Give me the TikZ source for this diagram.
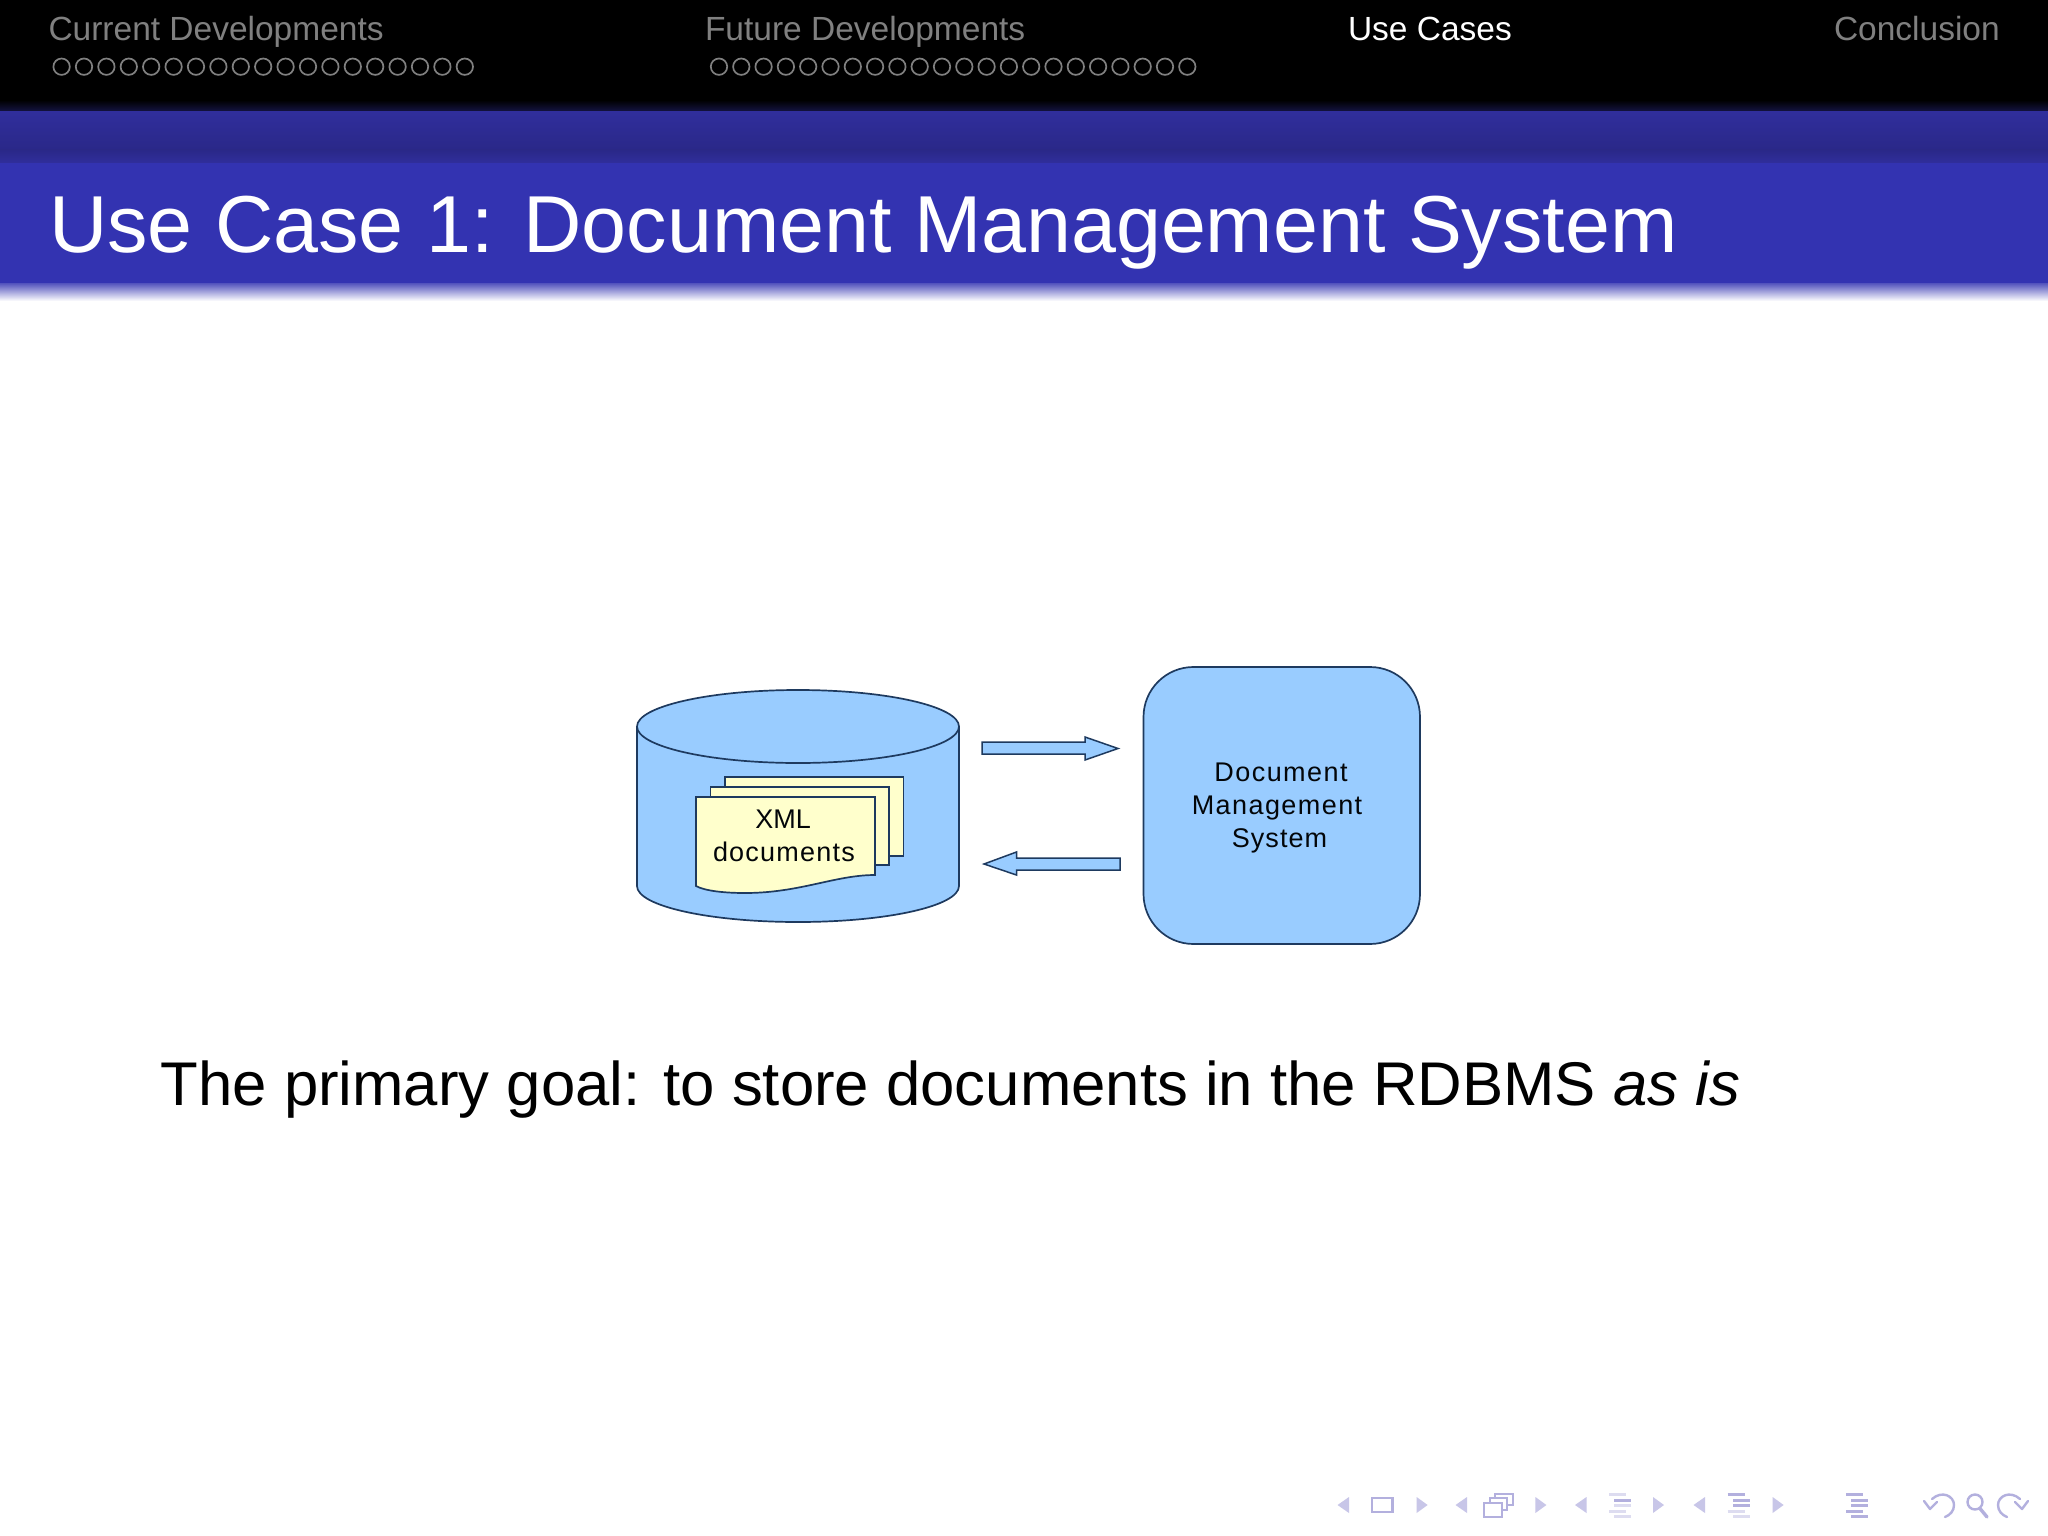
\documentclass[tikz,border=0pt]{standalone}
\usepackage{fontspec}
\setmainfont{Liberation Sans}
\definecolor{bandtop}{HTML}{302E9C}
\definecolor{bandlow}{HTML}{2A2888}
\definecolor{titleblue}{HTML}{3333B1}
\definecolor{dimtext}{HTML}{808080}
\definecolor{shapeblue}{HTML}{99CCFF}
\definecolor{paper}{HTML}{FFFFCC}
\definecolor{edge}{HTML}{1E3A5F}
\definecolor{navfill}{HTML}{C8C6E8}
\definecolor{navstroke}{HTML}{B3B0DE}
\definecolor{navfaint}{HTML}{DDDCF0}
\tikzset{
  x=1pt,y=-1pt,
  labeltext/.style={anchor=base west,inner sep=0pt,outer sep=0pt},
  navhead/.style={labeltext,font=\fontsize{33.5}{40}\selectfont,text=dimtext},
  navdot/.style={draw=dimtext,line width=1.7pt},
  solidshape/.style={draw=edge,line width=1.7pt,fill=shapeblue},
  paperstyle/.style={draw=edge,line width=1.7pt,fill=paper},
  diagtext/.style={anchor=base,inner sep=0pt,outer sep=0pt,text=black!90!edge,font=\fontsize{27}{32}\selectfont},
  navtri/.style={fill=navfill,draw=none},
  navbox/.style={draw=navstroke,line width=2pt,fill=white},
  navbar/.style={line width=3pt,draw=navstroke},
  navbarfaint/.style={line width=3pt,draw=navfaint},
  navcurl/.style={draw=navstroke,line width=2.4pt,line cap=round,line join=round},
}
\begin{document}
\begin{tikzpicture}
\path[use as bounding box,fill=white] (0,0) rectangle (2048,1536);
% header bands
\fill[black] (0,0) rectangle (2048,100);
\shade[top color=black,bottom color=bandtop!45!black,shading angle=0] (0,100) rectangle (2048,112);
\shade[top color=bandtop,bottom color=bandlow] (0,112) rectangle (2048,150);
\shade[top color=bandlow,bottom color=bandtop] (0,150) rectangle (2048,163);
\fill[titleblue] (0,163) rectangle (2048,283);
\shade[top color=titleblue!85!white,bottom color=white] (0,283) rectangle (2048,301);
% header navigation
\node[navhead] (navcurrent) at (48.5,41) {Current Developments};
\node[navhead] (navfuture) at (705,41) {Future Developments};
\node[navhead,text=white] (navuse) at (1348,41) {Use Cases};
\node[navhead] (navconc) at (1834,41) {Conclusion};
\foreach \i in {0,...,18} \draw[navdot] ({61.6+22.4*\i},66.7) circle (8.2);
\foreach \i in {0,...,21} \draw[navdot] ({719+22.3*\i},66.7) circle (8.2);
% title
\node[labeltext,text=white,font=\fontsize{80.8}{96}\selectfont] (title) at (49,252) {Use Case 1: Document Management System};
% cylinder
\path[solidshape] (637,726.5) -- (637,886) .. controls (637,906) and (709,922) .. (798,922)
  .. controls (887,922) and (959,906) .. (959,886) -- (959,726.5)
  .. controls (959,706.5) and (887,690) .. (798,690)
  .. controls (709,690) and (637,706.5) .. (637,726.5) -- cycle;
\draw[edge,line width=1.7pt] (637,726.5) .. controls (637,746.5) and (709,763) .. (798,763)
  .. controls (887,763) and (959,746.5) .. (959,726.5);
% paper stack
\path[paperstyle] (725,777) rectangle (903.5,856);
\path[paperstyle] (710.5,787) rectangle (889,865);
\path[paperstyle] (696,797) -- (875,797) -- (875,875)
  .. controls (835,875) and (800,893) .. (745,893)
  .. controls (725,893) and (705,891) .. (696,886) -- cycle;
\node[diagtext] (xml) at (783,828) {XML};
\node[diagtext] (docs) at (784,861) {\addfontfeature{LetterSpace=4.6}documents};
% arrows
\path[solidshape,line width=1.5pt] (982,742) -- (1085,742) -- (1085,737) -- (1118,748.5) -- (1085,760) -- (1085,754) -- (982,754) -- cycle;
\path[solidshape,line width=1.5pt] (1120,858) -- (1016.5,858) -- (1016.5,852) -- (984,864) -- (1016.5,875) -- (1016.5,870) -- (1120,870) -- cycle;
% system box
\path[solidshape,rounded corners=50pt] (1143.5,667) rectangle (1420,944);
\node[diagtext] (dms1) at (1281,781) {\addfontfeature{LetterSpace=5.3}Document};
\node[diagtext] (dms2) at (1277,814) {\addfontfeature{LetterSpace=5.3}Management};
\node[diagtext] (dms3) at (1279.5,847) {\addfontfeature{LetterSpace=4}System};
% main sentence
\node[labeltext,text=black,font=\fontsize{61.7}{72}\selectfont] (goal) at (160.6,1105.5) {The primary goal: to store documents in the RDBMS \textit{as is}};
% beamer navigation symbols
\foreach \x in {1349,1467,1586.5,1705} \fill[navtri] (\x,1497) -- (\x,1513) -- ({\x-11.5},1505) -- cycle;
\foreach \x in {1416.6,1535.4,1653,1772.6} \fill[navtri] (\x,1497) -- (\x,1513) -- ({\x+11},1505) -- cycle;
\draw[navstroke,line width=2.2pt] (1372,1498) rectangle (1392.4,1512);
\path[navbox] (1495,1493.5) rectangle (1513,1505);
\path[navbox] (1489.5,1498) rectangle (1507,1510);
\path[navbox] (1484,1503) rectangle (1502,1517);
% section/subsection icons
\draw[navbarfaint] (1609,1494.5) -- (1626,1494.5);
\draw[navbar] (1614,1500) -- (1631,1500);
\draw[navbarfaint] (1614,1505.5) -- (1631,1505.5);
\draw[navbarfaint] (1609,1511) -- (1626,1511);
\draw[navbarfaint] (1614,1516.5) -- (1631,1516.5);
\draw[navbar] (1727.6,1494.5) -- (1745,1494.5);
\draw[navbar] (1733,1500) -- (1750,1500);
\draw[navbar] (1733,1505.5) -- (1750,1505.5);
\draw[navbarfaint] (1727.6,1511) -- (1745,1511);
\draw[navbarfaint] (1733,1516.5) -- (1750,1516.5);
\draw[navbar] (1846,1494.5) -- (1863,1494.5);
\draw[navbar] (1851,1500) -- (1868,1500);
\draw[navbar] (1851,1505.5) -- (1868,1505.5);
\draw[navbar] (1846,1511) -- (1863,1511);
\draw[navbar] (1851,1516.5) -- (1868,1516.5);
% back, search, redo
\draw[navcurl] (1932,1499) .. controls (1942,1490) and (1954,1496) .. (1954,1505) .. controls (1954,1511) and (1950,1515) .. (1945,1517);
\draw[navcurl] (1924,1501) -- (1930,1509) -- (1937,1502);
\draw[navcurl] (1975,1502) circle (7.5);
\draw[navcurl,line width=3.4pt] (1980,1508.5) -- (1987,1517);
\draw[navcurl] (2020,1499) .. controls (2010,1490) and (1998,1496) .. (1998,1505) .. controls (1998,1511) and (2002,1515) .. (2007,1517);
\draw[navcurl] (2028,1501) -- (2022,1509) -- (2015,1502);
\end{tikzpicture}
\end{document}
